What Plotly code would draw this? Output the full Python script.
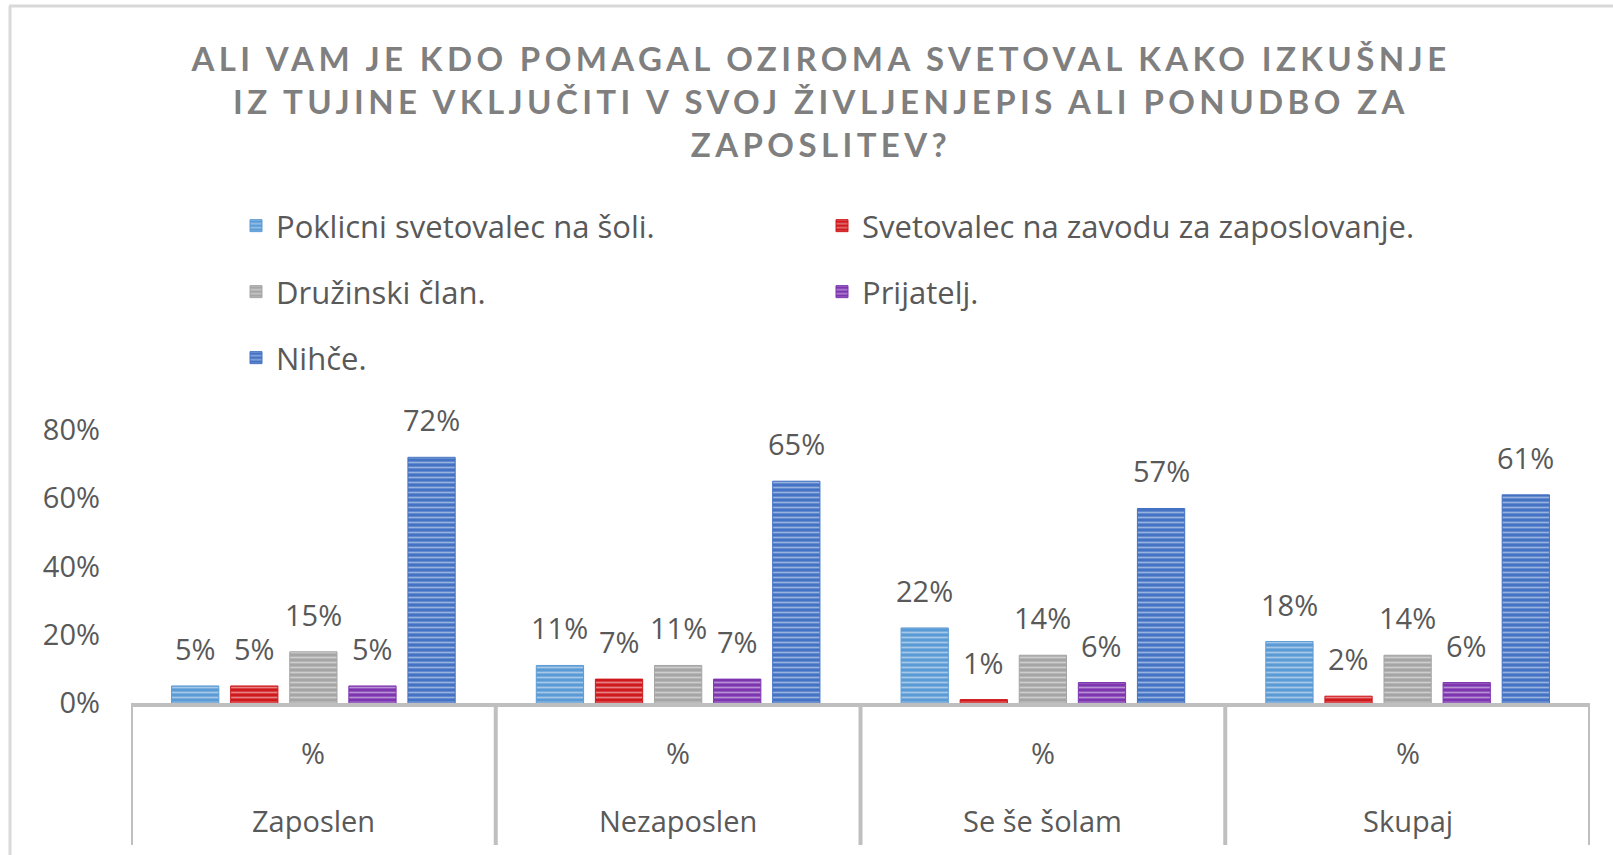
import plotly.graph_objects as go

# ---------------- data ----------------
categories = ["Zaposlen", "Nezaposlen", "Se še šolam", "Skupaj"]
sub_labels = ["%", "%", "%", "%"]
series_names = [
    "Poklicni svetovalec na šoli.",
    "Svetovalec na zavodu za zaposlovanje.",
    "Družinski član.",
    "Prijatelj.",
    "Nihče.",
]
poklicni = [0.05, 0.11, 0.22, 0.18]
zavod = [0.05, 0.07, 0.01, 0.02]
druzinski = [0.15, 0.11, 0.14, 0.14]
prijatelj = [0.05, 0.07, 0.06, 0.06]
nihce = [0.72, 0.65, 0.57, 0.61]
y_ticks = [0, 0.2, 0.4, 0.6, 0.8]
title_lines = [
    "ALI VAM JE KDO POMAGAL OZIROMA SVETOVAL KAKO IZKUŠNJE",
    "IZ TUJINE VKLJUČITI V SVOJ ŽIVLJENJEPIS ALI PONUDBO ZA",
    "ZAPOSLITEV?",
]

series_values = [poklicni, zavod, druzinski, prijatelj, nihce]
colors = ["#5B9BD5", "#D0191D", "#A5A5A5", "#7D35B0", "#4472C4"]

# ---------------- geometry ----------------
W, H = 1613, 855
PL, PR, PT, PB = 131, 1590, 430, 703
BARGAP = 0.19
FONT = "Open Sans"
TXT = "#595959"


def px_x(px):
    return (px - PL) / (PR - PL)


def px_y(py):
    return (PB - py) / (PB - PT)


fig = go.Figure()
legend_ids = ["legend", "legend2", "legend3", "legend4", "legend5"]
for i, (name, vals, col) in enumerate(zip(series_names, series_values, colors)):
    fig.add_trace(go.Bar(
        x=categories, y=vals, name=name,
        marker=dict(
            color=col,
            line=dict(color=col, width=1),
            pattern=dict(shape="-", fgcolor="white", fgopacity=0.45,
                         size=5, solidity=0.35, fillmode="overlay"),
        ),
        legend=legend_ids[i],
        hoverinfo="skip",
    ))

# data labels
slot = (1 - BARGAP) / len(series_names)
annotations = []
for i, vals in enumerate(series_values):
    for j, v in enumerate(vals):
        annotations.append(dict(
            x=j + (i - 2) * slot, y=v, xref="x", yref="y",
            text=f"{round(v * 100)}%", showarrow=False,
            yanchor="bottom", yshift=16,
            font=dict(family=FONT, size=29, color=TXT),
        ))

# category labels (two levels)
for j, (cat, sub) in enumerate(zip(categories, sub_labels)):
    annotations.append(dict(x=j, y=px_y(752), xref="x", yref="paper", text=sub,
                            xanchor="center", yanchor="middle", showarrow=False,
                            font=dict(family=FONT, size=29, color=TXT)))
    annotations.append(dict(x=j, y=px_y(820), xref="x", yref="paper", text=cat,
                            xanchor="center", yanchor="middle", showarrow=False,
                            font=dict(family=FONT, size=29, color=TXT)))

shapes = []
for b in [k - 0.5 for k in range(len(categories) + 1)]:
    shapes.append(dict(type="line", xref="x", yref="paper", x0=b, x1=b,
                       y0=0, y1=px_y(845), line=dict(color="#BFBFBF", width=4)))
# chart frame (top and left edges)
shapes.append(dict(type="line", xref="paper", yref="paper", x0=px_x(9), x1=px_x(1640),
                   y0=px_y(6), y1=px_y(6), line=dict(color="#D9D9D9", width=3)))
shapes.append(dict(type="line", xref="paper", yref="paper", x0=px_x(10), x1=px_x(10),
                   y0=px_y(6), y1=px_y(900), line=dict(color="#D9D9D9", width=3)))

title_text = "<br>".join(f"<span style='letter-spacing:4.4px'>{t}</span>" for t in title_lines)

legend_pos = [(276, 226), (862, 226), (276, 292), (862, 292), (276, 358)]
layout_legends = {}
for lid, (tx, ty) in zip(legend_ids, legend_pos):
    layout_legends[lid] = dict(
        x=px_x(tx - 40), y=px_y(ty), xanchor="left", yanchor="middle",
        orientation="h", bgcolor="rgba(0,0,0,0)", borderwidth=0,
        font=dict(family=FONT, size=31, color=TXT),
    )

fig.update_layout(
    width=W, height=H,
    margin=dict(l=PL, r=W - PR, t=PT, b=H - PB, autoexpand=False),
    paper_bgcolor="white", plot_bgcolor="white",
    barmode="group", bargap=BARGAP, bargroupgap=0.2,
    showlegend=True,
    title=dict(text=title_text, x=821 / W, y=1 - 71 / H, xanchor="center", yanchor="middle",
               font=dict(family="Lato", size=33, color="#7F7F7F", weight="bold")),
    xaxis=dict(type="category", range=[-0.5, 3.5], showticklabels=False, showgrid=False,
               showline=True, linecolor="#BFBFBF", linewidth=4, zeroline=False, ticks=""),
    yaxis=dict(range=[0, 0.8], tickvals=y_ticks, tickformat=".0%", showgrid=False,
               zeroline=False, showline=False, ticklabelstandoff=30,
               tickfont=dict(family=FONT, size=29, color=TXT)),
    annotations=annotations,
    shapes=shapes,
    **layout_legends,
)

fig.write_html("out.html", config={"displayModeBar": False},
               post_script="document.body.style.margin='0';")
